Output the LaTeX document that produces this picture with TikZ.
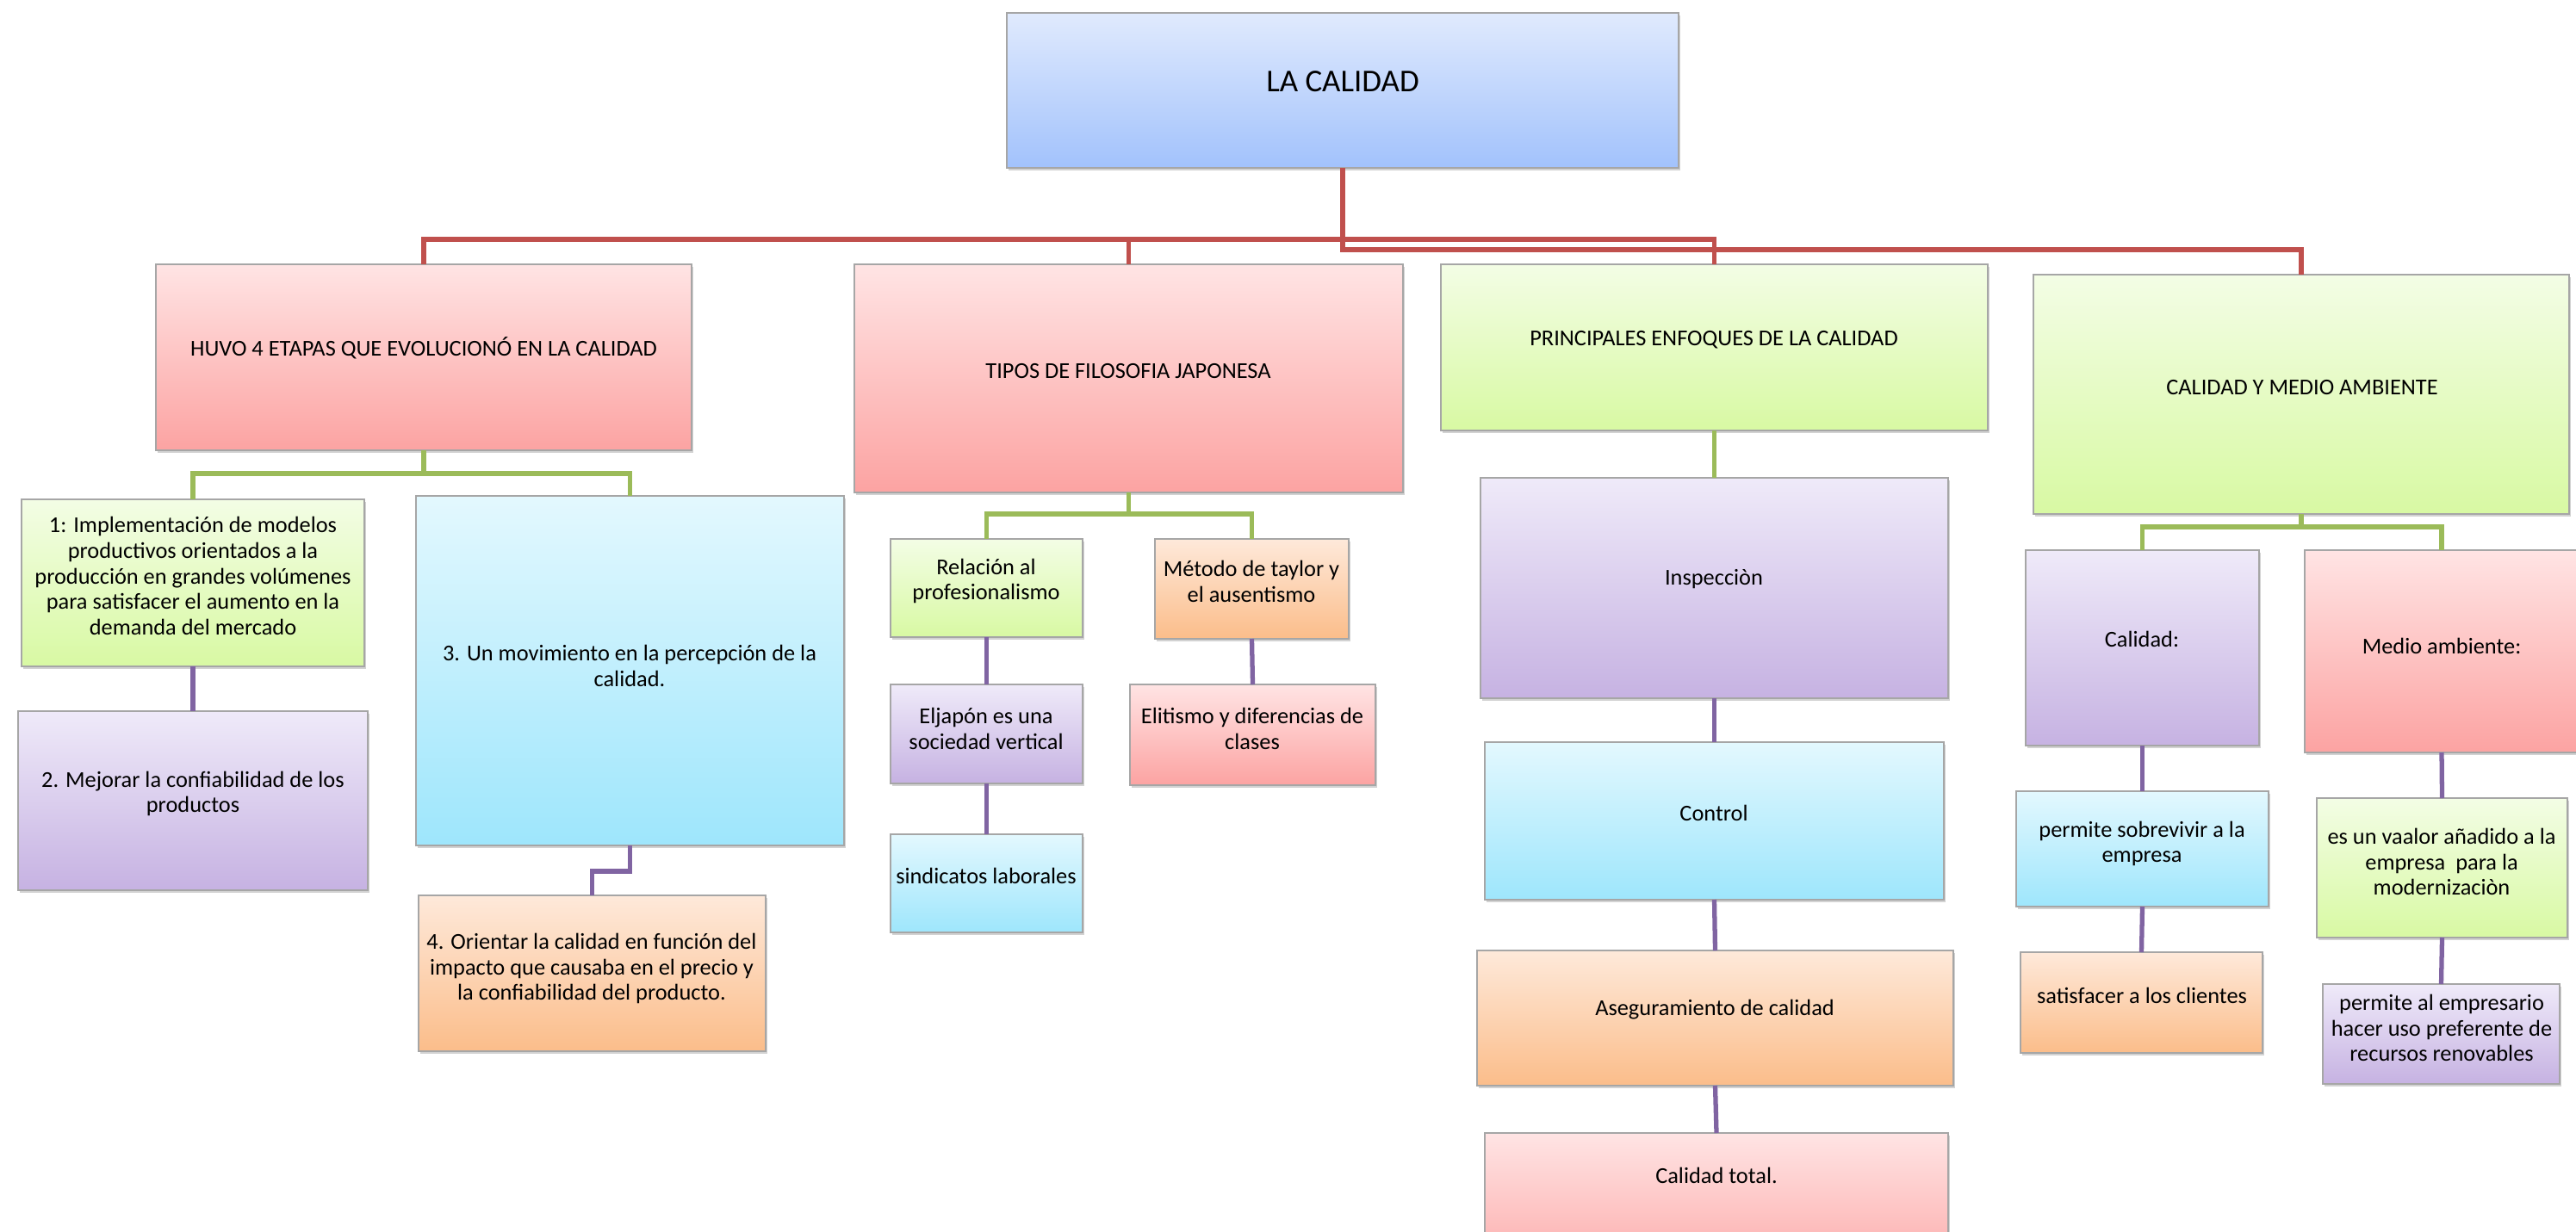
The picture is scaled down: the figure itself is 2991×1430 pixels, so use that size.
\documentclass[tikz,border=0pt]{standalone}
\usepackage{fontspec}
\setmainfont{Carlito}
\usetikzlibrary{shadows}
\definecolor{blueT}{HTML}{E0EAFD}\definecolor{blueB}{HTML}{A2C2FC}
\definecolor{redT}{HTML}{FFE4E4}\definecolor{redB}{HTML}{FCA3A2}
\definecolor{greenT}{HTML}{F3FDE5}\definecolor{greenB}{HTML}{D8F9A3}
\definecolor{purT}{HTML}{EFEAF9}\definecolor{purB}{HTML}{C6B2E2}
\definecolor{cyanT}{HTML}{E3F8FE}\definecolor{cyanB}{HTML}{9EE6FC}
\definecolor{oraT}{HTML}{FEE9DA}\definecolor{oraB}{HTML}{FBBD8A}
\definecolor{lineRed}{HTML}{C0504D}
\definecolor{lineGreen}{HTML}{9BBB59}
\definecolor{linePur}{HTML}{8064A2}
\newcommand{\mybox}[6]{%
  \node[boxbase,#2,minimum width={(#5-#3)*0.01cm},minimum height={(#6-#4)*0.01cm}] (#1) at ({(#3+#5)/2},{(#4+#6)/2}) {};}
\tikzset{
  boxbase/.style={rectangle,draw=gray!70,line width=0.5pt,inner sep=0pt,outer sep=0pt,
    drop shadow={opacity=0.35,shadow xshift=0.5pt,shadow yshift=-0.9pt}},
  cblue/.style={top color=blueT,bottom color=blueB},
  cred/.style={top color=redT,bottom color=redB},
  cgreen/.style={top color=greenT,bottom color=greenB},
  cpur/.style={top color=purT,bottom color=purB},
  ccyan/.style={top color=cyanT,bottom color=cyanB},
  cora/.style={top color=oraT,bottom color=oraB},
  txt/.style={font=\fontsize{7.5}{8.5}\selectfont,align=center,inner sep=0pt},
  bigtxt/.style={font=\fontsize{10.5}{12}\selectfont,align=center,inner sep=0pt},
  redc/.style={draw=lineRed,line width=1.5pt},
  greenc/.style={draw=lineGreen,line width=1.5pt},
  purc/.style={draw=linePur,line width=1.5pt}
}
\begin{document}
\begin{tikzpicture}[x=0.01cm,y=-0.01cm]
\fill[white] (0,0) rectangle (2991,1430);
\useasboundingbox (0,0) rectangle (2991,1430);
% level coordinates
\coordinate (b1) at (0,278);
\coordinate (b2) at (0,290);
\coordinate (g1) at (0,550);
\coordinate (g2) at (0,597);
\coordinate (g3) at (0,612);
\coordinate (p1) at (0,1012);
% boxes
\mybox{top}{cblue}{1169}{15}{1949}{195}
\mybox{huvo}{cred}{181}{307}{803}{523}
\mybox{tipos}{cred}{992}{307}{1629}{572}
\mybox{princ}{cgreen}{1673}{307}{2308}{500}
\mybox{cma}{cgreen}{2361}{319}{2983}{597}
\mybox{e1}{cgreen}{25}{580}{423}{774}
\mybox{e3}{ccyan}{483}{576}{980}{982}
\mybox{e2}{cpur}{21}{826}{427}{1034}
\mybox{e4}{cora}{486}{1040}{889}{1221}
\mybox{rel}{cgreen}{1034}{626}{1257}{740}
\mybox{met}{cora}{1341}{626}{1566}{742}
\mybox{elj}{cpur}{1034}{795}{1257}{910}
\mybox{sin}{ccyan}{1034}{969}{1257}{1083}
\mybox{eli}{cred}{1312}{795}{1597}{912}
\mybox{insp}{cpur}{1719}{555}{2262}{811}
\mybox{ctrl}{ccyan}{1724}{862}{2257}{1045}
\mybox{aseg}{cora}{1715}{1104}{2268}{1261}
\mybox{tot}{cred}{1724}{1316}{2262}{1500}
\mybox{cal}{cpur}{2352}{639}{2623}{866}
\mybox{med}{cred}{2676}{639}{2994}{874}
\mybox{sob}{ccyan}{2341}{919}{2634}{1053}
\mybox{sat}{cora}{2346}{1106}{2627}{1223}
\mybox{val}{cgreen}{2690}{927}{2981}{1089}
\mybox{emp}{cpur}{2697}{1143}{2972}{1259}
% texts
\node[bigtxt] (t-top) at (1559,95) {LA CALIDAD};
\node[txt] (t-huvo) at (492,404) {HUVO 4 ETAPAS QUE EVOLUCIONÓ EN LA CALIDAD};
\node[txt] (t-tipos) at (1310,431) {TIPOS DE FILOSOFIA JAPONESA};
\node[txt] (t-princ) at (1990,395) {PRINCIPALES ENFOQUES DE LA CALIDAD};
\node[txt] (t-cma) at (2673,450) {CALIDAD Y MEDIO AMBIENTE};
\node[txt] (t-e1) at (224,669) {1: Implementación de modelos\\productivos orientados a la\\producción en grandes volúmenes\\para satisfacer el aumento en la\\demanda del mercado};
\node[txt] (t-e3) at (731,773) {3. Un movimiento en la percepción de la\\calidad.};
\node[txt] (t-e2) at (224,922) {2. Mejorar la confiabilidad de los\\productos};
\node[txt] (t-e4) at (687,1125) {4. Orientar la calidad en función del\\impacto que causaba en el precio y\\la confiabilidad del producto.};
\node[txt] (t-rel) at (1145,675) {Relación al\\profesionalismo};
\node[txt] (t-met) at (1453,675) {Método de taylor y\\el ausentismo};
\node[txt] (t-elj) at (1145,846) {Eljapón es una\\sociedad vertical};
\node[txt] (t-sin) at (1145,1017) {sindicatos laborales};
\node[txt] (t-eli) at (1454,846) {Elitismo y diferencias de\\clases};
\node[txt] (t-insp) at (1990,673) {Inspecciòn};
\node[txt] (t-ctrl) at (1990,944) {Control};
\node[txt] (t-aseg) at (1991,1173) {Aseguramiento de calidad};
\node[txt] (t-tot) at (1993,1365) {Calidad total.};
\node[txt] (t-cal) at (2487,742) {Calidad:};
\node[txt] (t-med) at (2835,750) {Medio ambiente:};
\node[txt] (t-sob) at (2487,980) {permite sobrevivir a la\\empresa};
\node[txt] (t-sat) at (2487,1156) {satisfacer a los clientes};
\node[txt] (t-val) at (2835,1001) {es un vaalor añadido a la\\empresa\ \ para la\\modernizaciòn};
\node[txt] (t-emp) at (2835,1194) {permite al empresario\\hacer uso preferente de\\recursos renovables};
% red connectors
\draw[redc] (top.south) -- (top.south |- b2) -- (cma.north |- b2) -- (cma.north);
\draw[redc] (huvo.north) -- (huvo.north |- b1) -- (princ.north |- b1) -- (princ.north);
\draw[redc] (tipos.north) -- (tipos.north |- b1);
% green connectors
\draw[greenc] (e1.north) -- (e1.north |- g1) -- (e3.north |- g1) -- (e3.north);
\draw[greenc] (huvo.south) -- (huvo.south |- g1);
\draw[greenc] (rel.north) -- (rel.north |- g2) -- (met.north |- g2) -- (met.north);
\draw[greenc] (tipos.south) -- (tipos.south |- g2);
\draw[greenc] (princ.south) -- (insp.north);
\draw[greenc] (cal.north) -- (cal.north |- g3) -- (med.north |- g3) -- (med.north);
\draw[greenc] (cma.south) -- (cma.south |- g3);
% purple connectors
\draw[purc] (e1.south) -- (e2.north);
\draw[purc] (e3.south) -- (e3.south |- p1) -- (e4.north |- p1) -- (e4.north);
\draw[purc] (rel.south) -- (elj.north);
\draw[purc] (elj.south) -- (sin.north);
\draw[purc] (met.south) -- (eli.north);
\draw[purc] (insp.south) -- (ctrl.north);
\draw[purc] (ctrl.south) -- (aseg.north);
\draw[purc] (aseg.south) -- (tot.north);
\draw[purc] (cal.south) -- (sob.north);
\draw[purc] (sob.south) -- (sat.north);
\draw[purc] (med.south) -- (val.north);
\draw[purc] (val.south) -- (emp.north);
\end{tikzpicture}
\end{document}
